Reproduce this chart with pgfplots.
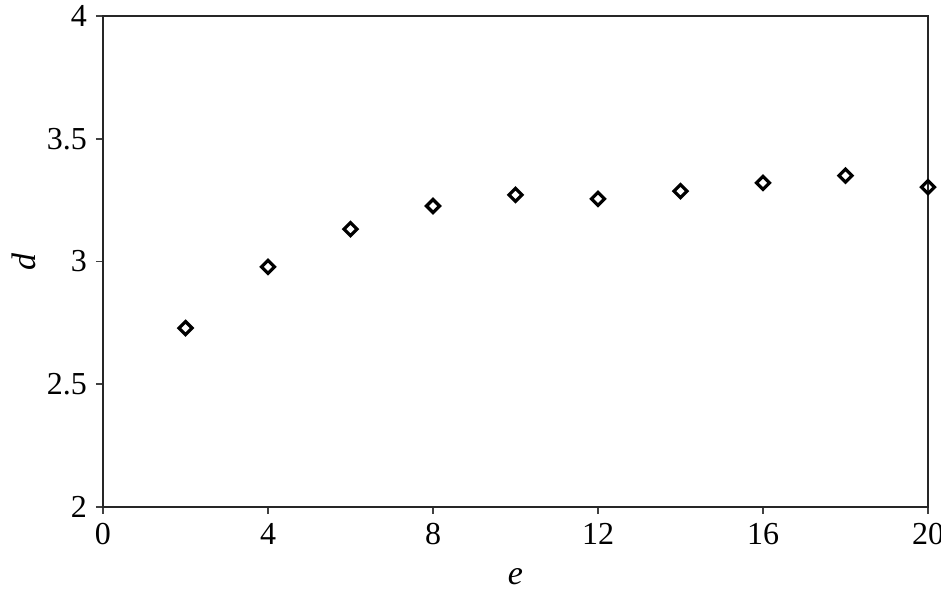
\documentclass[border=0pt]{standalone}
\usepackage{fontspec}
\setmainfont{Liberation Serif}
\usepackage{pgfplots}
\pgfplotsset{compat=1.18}
\begin{document}
\begin{tikzpicture}
\begin{axis}[
  scale only axis,
  width=412.5pt, height=245.5pt,
  xmin=0, xmax=20, ymin=2, ymax=4,
  xtick={0,4,8,12,16,20},
  ytick={2,2.5,3,3.5,4},
  xtick pos=left, ytick pos=left,
  tick align=outside,
  major tick length=3.5pt,
  axis line style={line width=1pt, black!85},
  every tick/.style={line width=0.8pt, black!75},
  /pgf/number format/assume math mode=true,
  ticklabel style={font=\fontsize{16}{19}\selectfont},
  yticklabel style={/pgf/number format/fixed, /pgf/number format/precision=1, xshift=-1pt},
  xticklabel style={yshift=-1pt},
  xlabel={\textit{e}}, ylabel={\textit{d}},
  label style={font=\fontsize{17}{20}\selectfont},
  xlabel style={yshift=-5pt},
  ylabel style={yshift=-1.5pt},
  clip=false,
]
\addplot[only marks, mark=square, mark size=2.3pt, mark options={rotate=45}, line width=1.6pt, black]
coordinates {
(2,2.729) (4,2.978) (6,3.132) (8,3.226) (10,3.271)
(12,3.255) (14,3.287) (16,3.320) (18,3.350) (20,3.303)
};
\coordinate (sw) at (rel axis cs:0,0);
\coordinate (ne) at (rel axis cs:1,1);
\end{axis}
\pgfresetboundingbox
\path ([xshift=-51.5pt,yshift=-42pt]sw) rectangle ([xshift=6.5pt,yshift=8pt]ne);
\end{tikzpicture}
\end{document}
